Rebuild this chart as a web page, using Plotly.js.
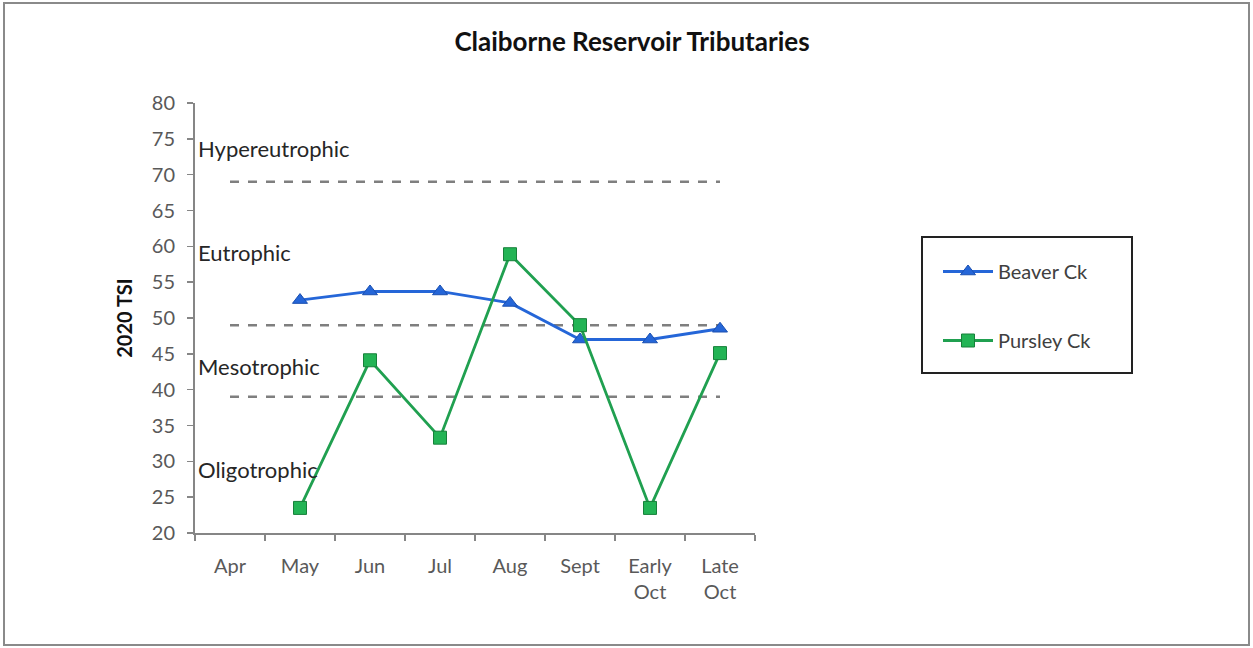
<!DOCTYPE html>
<html><head><meta charset="utf-8">
<script src="https://cdn.plot.ly/plotly-3.0.1.min.js"></script>
<style>html,body{margin:0;padding:0;background:#fff}#c{width:1253px;height:648px}</style>
</head><body><div id="c"></div>
<script>
const categories = ['Apr','May','Jun','Jul','Aug','Sept','Early<br>Oct','Late<br>Oct'];
const beaverCk = [null, 52.5, 53.7, 53.7, 52.1, 47.0, 47.0, 48.5];
const pursleyCk = [null, 23.5, 44.1, 33.3, 58.9, 49.0, 23.5, 45.1];
const thresholds = [69, 49, 39];
const classLabels = ['Hypereutrophic','Eutrophic','Mesotrophic','Oligotrophic'];
const classLabelY = [73.6, 59.1, 43.3, 28.9];

const font = 'Lato, "Open Sans", sans-serif';
const traces = [];
thresholds.forEach(t => {
  traces.push({x:[categories[0], categories[categories.length-1]], y:[t,t], type:'scatter', mode:'lines',
    line:{color:'#7f7f7f', width:2.5, dash:'dash'}, showlegend:false, hoverinfo:'skip'});
});
traces.push({x:categories, y:beaverCk, name:'Beaver Ck', type:'scatter', mode:'lines+markers',
  line:{color:'#2566d8', width:2.8}, marker:{symbol:'triangle-up', size:13, color:'#2566d8', line:{color:'#1a4fb0', width:1}},
  legendgroup:'a'});
traces.push({x:categories, y:pursleyCk, name:'Pursley Ck', type:'scatter', mode:'lines+markers',
  line:{color:'#20a050', width:2.8}, marker:{symbol:'square', size:13, color:'#23b455', line:{color:'#17803a', width:1}},
  legendgroup:'b'});

const L=195, R=755, T=103, B=533;
const px = v => (v-L)/(R-L), py = v => (B-v)/(B-T);

const layout = {
  width:1253, height:648,
  margin:{l:L, r:1253-R, t:T, b:648-B, pad:0},
  paper_bgcolor:'#fff', plot_bgcolor:'#fff',
  font:{family:font, size:20, color:'#595959'},
  title:{text:'<b>Claiborne Reservoir Tributaries</b>', font:{family:font, size:26, color:'#111'},
    x:px(632), xref:'paper', xanchor:'center', y:1-42/648, yanchor:'middle'},
  xaxis:{type:'category', categoryorder:'array', categoryarray:categories, range:[-0.5,7.5],
    showline:true, linecolor:'#868686', linewidth:2, ticks:'outside', tickson:'boundaries', ticklen:6,
    tickcolor:'#868686', tickwidth:1.5, showgrid:false, zeroline:false, tickfont:{size:20, color:'#595959'},
    ticklabelstandoff:14, automargin:false},
  yaxis:{range:[20,80], dtick:5, tick0:20, showline:true, linecolor:'#868686', linewidth:2, ticks:'outside',
    ticklen:6, tickcolor:'#868686', tickwidth:1.5, showgrid:false, zeroline:false, tickfont:{size:20, color:'#595959'},
    ticklabelstandoff:8,
    title:{text:'<b>2020 TSI</b>', font:{family:font, size:20, color:'#111'}, standoff:14}, automargin:false},
  showlegend:true,
  legend:{x:px(938), y:py(252), xanchor:'left', yanchor:'top', bgcolor:'rgba(0,0,0,0)', borderwidth:0,
    font:{family:font, size:20, color:'#404040'}, itemwidth:50, tracegroupgap:40, traceorder:'grouped'},
  shapes:[
    {type:'rect', xref:'paper', yref:'paper', x0:px(4), x1:px(1249), y0:py(645), y1:py(3), line:{color:'#8a8a8a', width:2}, layer:'below'},
    {type:'rect', xref:'paper', yref:'paper', x0:px(922), x1:px(1132), y0:py(373), y1:py(237), line:{color:'#222', width:2}, layer:'below'}
  ],
  annotations: classLabels.map((t,i)=>({text:t, xref:'paper', x:px(196), xanchor:'left', yref:'y', y:classLabelY[i],
    yanchor:'middle', showarrow:false, font:{family:font, size:22, color:'#262626'}}))
};
Plotly.newPlot('c', traces, layout, {displayModeBar:false, staticPlot:true});
</script></body></html>
